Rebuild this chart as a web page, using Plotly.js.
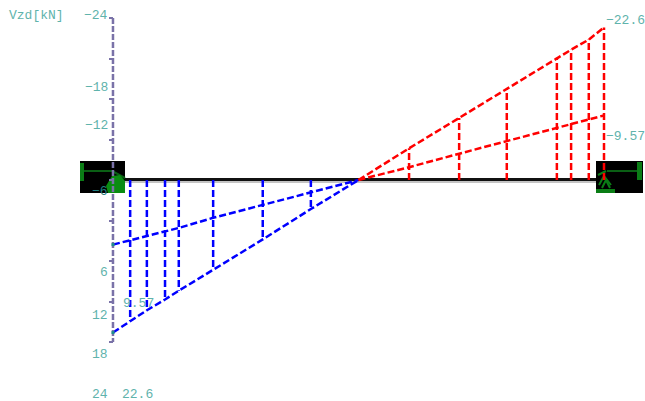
<!DOCTYPE html>
<html>
<head>
<meta charset="utf-8">
<script src="https://cdn.plot.ly/plotly-3.0.1.min.js"></script>
<style>html,body{margin:0;padding:0;background:#fff;overflow:hidden}</style>
</head>
<body>
<div id="chart" style="width:645px;height:401px"></div>
<script>
// stations along the beam [m] and shear values [kN]
const beamEnds = [0, 10];
const leftStations = [0.35, 0.69, 1.06, 1.34, 2.04, 3.05, 4.03];
const leftOuter = [20.9, 19.3, 17.7, 16.4, 13.3, 8.8, 4.3];
const leftInner = [8.9, 8.3, 7.6, 7.1, 5.6, 3.7, 1.9];
const rightStations = [6.03, 7.05, 8.02, 9.04, 9.33, 9.69, 10];
const rightOuter = [-4.7, -9.2, -13.5, -18.1, -19.3, -20.8, -22.6];
const rightInner = [-1.9, -3.9, -5.8, -7.8, -8.3, -9.0, -9.57];
const zeroAt = 5;
const leftEnd = [22.6, 9.57];
const yTicks = [-24, -18, -12, -6, 0, 6, 12, 18, 24];
const yTickLabels = ['\u221224', '\u221218', '\u221212', '6', '12', '18', '24'];
const yLabelPx = [16, 87, 126, 272, 315, 354, 394];

const teal = '#5fb3ac';
const W = 645, H = 401;

function dashed(x, y, color) {
  return {x, y, mode: 'lines', hoverinfo: 'skip',
    line: {color, width: 2.5, dash: '7px,3px'}};
}

// verticals from the beam to the outer envelope
function verticals(xs, ys) {
  const x = [], y = [];
  xs.forEach((v, i) => {
    x.push(v, v, null);
    y.push(0, ys[i], null);
  });
  return {x, y};
}

const leftV = verticals(leftStations, leftOuter);
const rightV = verticals(rightStations, rightOuter);

const traces = [
  dashed(leftV.x, leftV.y, '#0000ff'),
  dashed([beamEnds[0], ...leftStations, zeroAt], [leftEnd[0], ...leftOuter, 0], '#0000ff'),
  dashed([beamEnds[0], ...leftStations, zeroAt], [leftEnd[1], ...leftInner, 0], '#0000ff'),
  dashed(rightV.x, rightV.y, '#ff0000'),
  dashed([zeroAt, ...rightStations], [0, ...rightOuter], '#ff0000'),
  dashed([zeroAt, ...rightStations], [0, ...rightInner], '#ff0000'),
  {x: [0, 0], y: [yTicks[0], yTicks[yTicks.length - 1]], mode: 'lines', hoverinfo: 'skip',
    line: {color: '#7a72a8', width: 2.5, dash: '6px,2px'}},
  {x: [0, 0], y: leftEnd, mode: 'markers', hoverinfo: 'skip',
    marker: {color: '#1f8f8a', size: 3, symbol: 'square'}}
];

function pxLabel(text, px, py, anchor, color) {
  return {text, x: px / W, y: 1 - py / H, xref: 'paper', yref: 'paper', showarrow: false,
    xanchor: anchor || 'right', yanchor: 'middle', borderpad: 0,
    font: {family: '"Liberation Mono", monospace', size: 13, color: color || teal}};
}

const annotations = yTickLabels.map((t, i) => pxLabel(t, 109, yLabelPx[i]));
annotations.push(pxLabel('\u22126', 109, 191, 'right', '#1f7f80'));
annotations.push(pxLabel('Vzd[kN]', 8, 15, 'left'));
annotations.push(pxLabel('\u221222.6', 605, 21, 'left'));
annotations.push(pxLabel('\u22129.57', 605, 136, 'left'));
annotations.push(pxLabel('9.57', 122, 303, 'left'));
annotations.push(pxLabel('22.6', 121, 394, 'left'));

function pxRect(x0, y0, x1, y1, color) {
  return {type: 'rect', xref: 'paper', yref: 'paper', layer: 'below',
    x0: x0 / W, x1: x1 / W, y0: 1 - y0 / H, y1: 1 - y1 / H,
    fillcolor: color, line: {width: 0}};
}

function pxPath(points, color, stroke) {
  const d = points.map((p, i) => (i ? 'L' : 'M') + (p[0] / W) + ',' + (1 - p[1] / H)).join(' ');
  return stroke
    ? {type: 'path', xref: 'paper', yref: 'paper', layer: 'below', path: d,
       line: {color, width: stroke}}
    : {type: 'path', xref: 'paper', yref: 'paper', layer: 'below', path: d + ' Z',
       fillcolor: color, line: {width: 0}};
}

const green = '#0b7d16';
const shapes = [
  pxRect(113, 181, 604, 183, '#c4c4c4'),
  pxRect(113, 178, 604, 181, '#111111'),
  // left support
  pxRect(80, 161, 125, 193, '#000000'),
  pxRect(80, 163, 84, 181, green),
  pxRect(84, 170, 112, 172, '#0a5f14'),
  pxPath([[112, 171], [125, 178]], '#0a5f14', 2),
  pxPath([[108, 193], [106, 186], [112, 176], [120, 175], [125, 181], [125, 193]], '#0a8c12'),
  // right support
  pxRect(596, 161, 643, 193, '#000000'),
  pxRect(637, 162, 642, 180, green),
  pxRect(607, 170, 637, 172, '#0a5f14'),
  pxPath([[598, 175], [606, 171]], green, 2),
  pxPath([[599, 185], [604, 176], [611, 185]], green, 2),
  pxPath([[602, 188], [606, 180], [610, 188]], green, 2),
  pxRect(596, 189, 615, 193, green)
];

const layout = {
  width: W, height: H,
  margin: {l: 0, r: 0, t: 0, b: 0},
  paper_bgcolor: '#ffffff', plot_bgcolor: '#ffffff',
  showlegend: false,
  xaxis: {range: [-2.301, 10.835], visible: false, fixedrange: true},
  yaxis: {range: [32.74, -26.67], anchor: 'free', position: 113 / W, showgrid: false,
    zeroline: false, showline: false, ticks: 'outside', ticklen: 4, tickwidth: 2,
    tickcolor: '#7a72a8', tickvals: yTicks, showticklabels: false, fixedrange: true},
  annotations,
  shapes
};

Plotly.newPlot('chart', traces, layout, {staticPlot: true, displayModeBar: false});
</script>
</body>
</html>
